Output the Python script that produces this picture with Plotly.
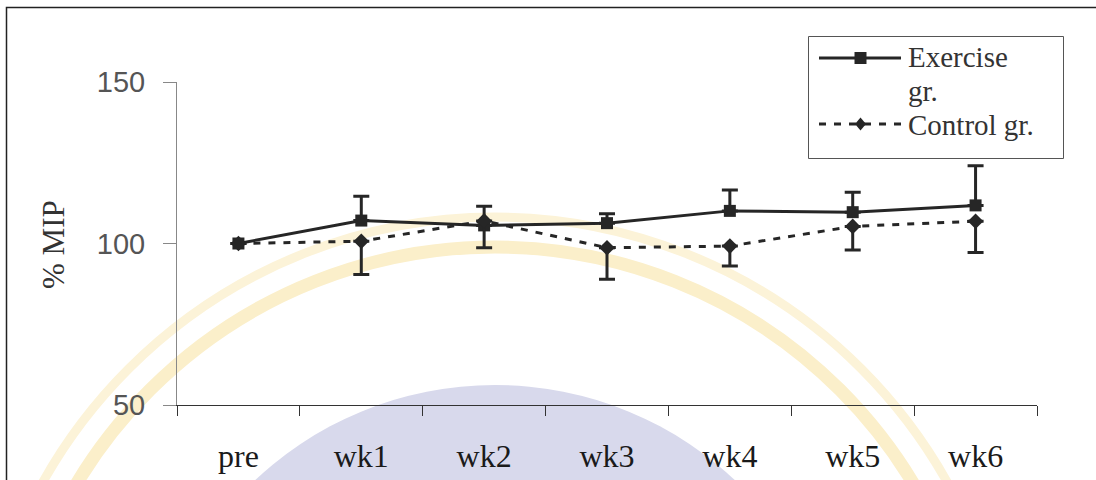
import plotly.graph_objects as go

categories = ["pre", "wk1", "wk2", "wk3", "wk4", "wk5", "wk6"]
exercise = [100, 107.1, 105.6, 106.3, 110.1, 109.7, 111.8]
exercise_err_plus = [0, 7.5, 5.9, 2.9, 6.5, 6.2, 12.3]
control = [100, 100.7, 107.0, 98.7, 99.2, 105.3, 106.9]
control_err_minus = [0, 10.3, 8.3, 9.8, 6.2, 7.3, 9.7]
y_ticks = [50, 100, 150]
series_names = ["Exercise", "gr.", "Control gr."]

W, H = 1096, 480
L, R, T, B = 177, 59, 82, 75
PW, PH = W - L - R, H - T - B


def px(x):
    return (x - L) / PW


def py(y):
    return (H - B - y) / PH


dark = "#262626"
serif = "Liberation Serif, Times New Roman, serif"
sans = "Liberation Sans, Arial, sans-serif"

fig = go.Figure()
fig.add_trace(go.Scatter(
    x=categories, y=exercise, name="Exercise gr.", showlegend=False,
    mode="lines+markers",
    line=dict(color=dark, width=3),
    marker=dict(symbol="square", size=12, color=dark),
    error_y=dict(type="data", symmetric=False, array=exercise_err_plus,
                 arrayminus=[0] * len(exercise), color=dark, thickness=3, width=8),
))
fig.add_trace(go.Scatter(
    x=categories, y=control, name="Control gr.", showlegend=False,
    mode="lines+markers",
    line=dict(color=dark, width=3, dash="7px,8px"),
    marker=dict(symbol="diamond", size=12, color=dark),
    error_y=dict(type="data", symmetric=False, array=[0] * len(control),
                 arrayminus=control_err_minus, color=dark, thickness=3, width=8),
))

shapes = []
# faint watermark approximation
cx, cy = 495, 735


def circ(r, **kw):
    return dict(type="circle", xref="paper", yref="paper", layer="below",
                x0=px(cx - r), x1=px(cx + r), y0=py(cy + r), y1=py(cy - r), **kw)


shapes.append(circ(518, line=dict(color="#fcf3d8", width=9)))
shapes.append(circ(488, line=dict(color="#fbefca", width=13)))
shapes.append(circ(350, fillcolor="#d8d9ec", line=dict(width=0)))
# outer frame
shapes.append(dict(type="rect", xref="paper", yref="paper", layer="above",
                   x0=px(6.5), x1=px(1110), y0=py(500), y1=py(7.5),
                   line=dict(color="#222222", width=1.5)))

# legend box and glyphs
shapes.append(dict(type="rect", xref="paper", yref="paper", layer="above",
                   x0=px(808.5), x1=px(1063.5), y0=py(158.5), y1=py(36.5),
                   fillcolor="white", line=dict(color="#555555", width=1)))
shapes.append(dict(type="line", xref="paper", yref="paper", layer="above",
                   x0=px(819), x1=px(901), y0=py(58), y1=py(58),
                   line=dict(color=dark, width=3)))
shapes.append(dict(type="rect", xref="paper", yref="paper", layer="above",
                   x0=px(854.5), x1=px(866.5), y0=py(64), y1=py(52),
                   fillcolor=dark, line=dict(width=0)))
shapes.append(dict(type="line", xref="paper", yref="paper", layer="above",
                   x0=px(819), x1=px(901), y0=py(124), y1=py(124),
                   line=dict(color=dark, width=3, dash="7px,8px")))
dpath = "M {},{} L {},{} L {},{} L {},{} Z".format(
    px(860.5), py(117.5), px(866), py(124), px(860.5), py(130.5), px(855), py(124))
shapes.append(dict(type="path", xref="paper", yref="paper", layer="above",
                   path=dpath, fillcolor=dark, line=dict(width=0)))

legend_font = dict(family=serif, size=29, color="#333333")
annotations = [
    dict(text="% MIP", textangle=-90, xref="paper", yref="paper",
         x=px(53), y=py(244), xanchor="center", yanchor="middle", showarrow=False,
         font=dict(family=serif, size=31, color="#333333")),
]
for label, ypix in zip(series_names, [57, 91, 125]):
    annotations.append(dict(text=label, xref="paper", yref="paper",
                            x=px(906), y=py(ypix), xanchor="left", yanchor="middle",
                            showarrow=False, font=legend_font))

fig.update_layout(
    width=W, height=H,
    margin=dict(l=L, r=R, t=T, b=B),
    paper_bgcolor="white", plot_bgcolor="rgba(0,0,0,0)",
    shapes=shapes,
    showlegend=False,
    xaxis=dict(type="category", range=[-0.5, 6.5], tickson="boundaries",
               ticks="outside", ticklen=10, tickcolor="#333333",
               showline=True, linecolor="#333333", linewidth=1,
               showgrid=False, zeroline=False, automargin=False,
               tickfont=dict(family=serif, size=32, color="#1a1a1a"),
               ticklabelstandoff=23),
    yaxis=dict(range=[50, 150], tickvals=y_ticks,
               ticks="outside", ticklen=13, tickcolor="#888888",
               showline=True, linecolor="#888888", linewidth=1,
               showgrid=False, zeroline=False, automargin=False,
               tickfont=dict(family=sans, size=29, color="#555555"),
               ticklabelstandoff=12),
    annotations=annotations,
)

fig.write_html("out.html", config={"displayModeBar": False},
               post_script="document.body.style.margin='0';")
